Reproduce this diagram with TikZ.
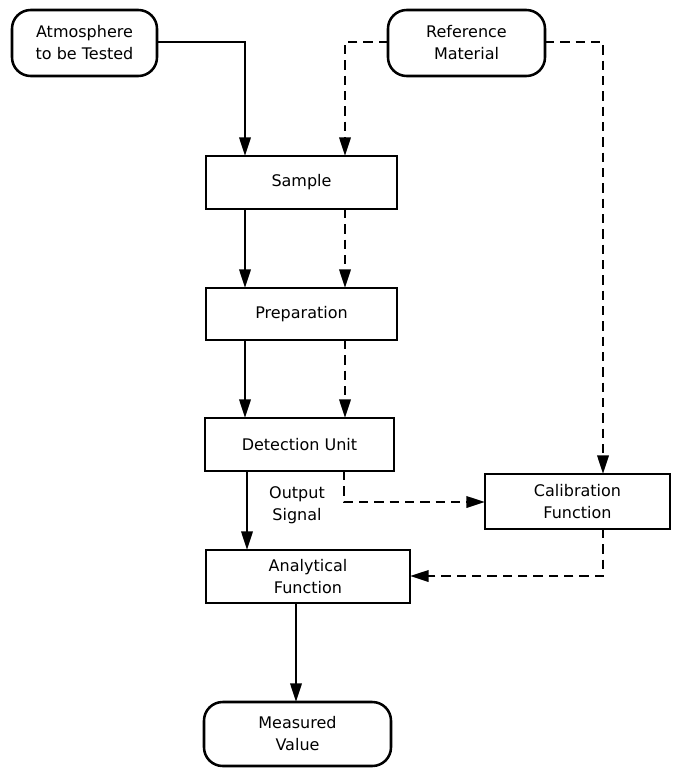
\documentclass[tikz,border=0pt]{standalone}
\usepackage{fontspec}
\setmainfont{DejaVu Sans}
\usetikzlibrary{arrows.meta,calc}
\begin{document}
\begin{tikzpicture}[x=0.75pt,y=-0.75pt,
  font=\fontsize{12pt}{16.5pt}\selectfont,
  every node/.style={inner sep=0pt,outer sep=0pt},
  boxnode/.style={draw,line width=1.9pt,align=center},
  termnode/.style={boxnode,rounded corners=14pt},
  flow/.style={line width=1.9pt,-{Triangle[length=14pt,width=8.5pt]}},
  dflow/.style={flow,dash pattern=on 7pt off 4.5pt}]
\useasboundingbox (0,0) rectangle (676,768);
\node[termnode,minimum width=145*0.75pt,minimum height=66*0.75pt] (atm) at (84.5,43) {Atmosphere\\to be Tested};
\node[termnode,minimum width=157*0.75pt,minimum height=66*0.75pt] (ref) at (466.5,43) {Reference\\Material};
\node[boxnode,minimum width=191*0.75pt,minimum height=53*0.75pt] (sam) at (301.5,182.5) {Sample};
\node[boxnode,minimum width=191*0.75pt,minimum height=52*0.75pt] (prep) at (301.5,314) {Preparation};
\node[boxnode,minimum width=189*0.75pt,minimum height=53*0.75pt] (det) at (299.5,444.5) {Detection Unit};
\node[boxnode,minimum width=185*0.75pt,minimum height=55*0.75pt] (cal) at (577.5,501.5) {Calibration\\Function};
\node[boxnode,minimum width=204*0.75pt,minimum height=53*0.75pt] (ana) at (308,576.5) {Analytical\\Function};
\node[termnode,minimum width=187*0.75pt,minimum height=64*0.75pt] (mea) at (297.5,734) {Measured\\Value};
\node[align=center] (out) at (297,505) {Output\\Signal};
% solid flows
\draw[flow] (atm.east |- 0,42) -| (sam.north -| 245,0);
\draw[flow] (sam.south -| 245,0) -- (prep.north -| 245,0);
\draw[flow] (prep.south -| 245,0) -- (det.north -| 245,0);
\draw[flow] (det.south -| 247,0) -- (ana.north -| 247,0);
\draw[flow] (ana.south -| 296,0) -- (mea.north -| 296,0);
% dashed flows
\draw[dflow] (ref.west |- 0,42) -| (sam.north -| 345,0);
\draw[dflow] (ref.east |- 0,42) -| (cal.north -| 603,0);
\draw[dflow] (sam.south -| 345,0) -- (prep.north -| 345,0);
\draw[dflow] (prep.south -| 345,0) -- (det.north -| 345,0);
\draw[dflow] (det.south -| 344,0) |- (cal.west |- 0,502);
\draw[dflow] (cal.south -| 603,0) |- (ana.east |- 0,576);
\end{tikzpicture}
\end{document}
